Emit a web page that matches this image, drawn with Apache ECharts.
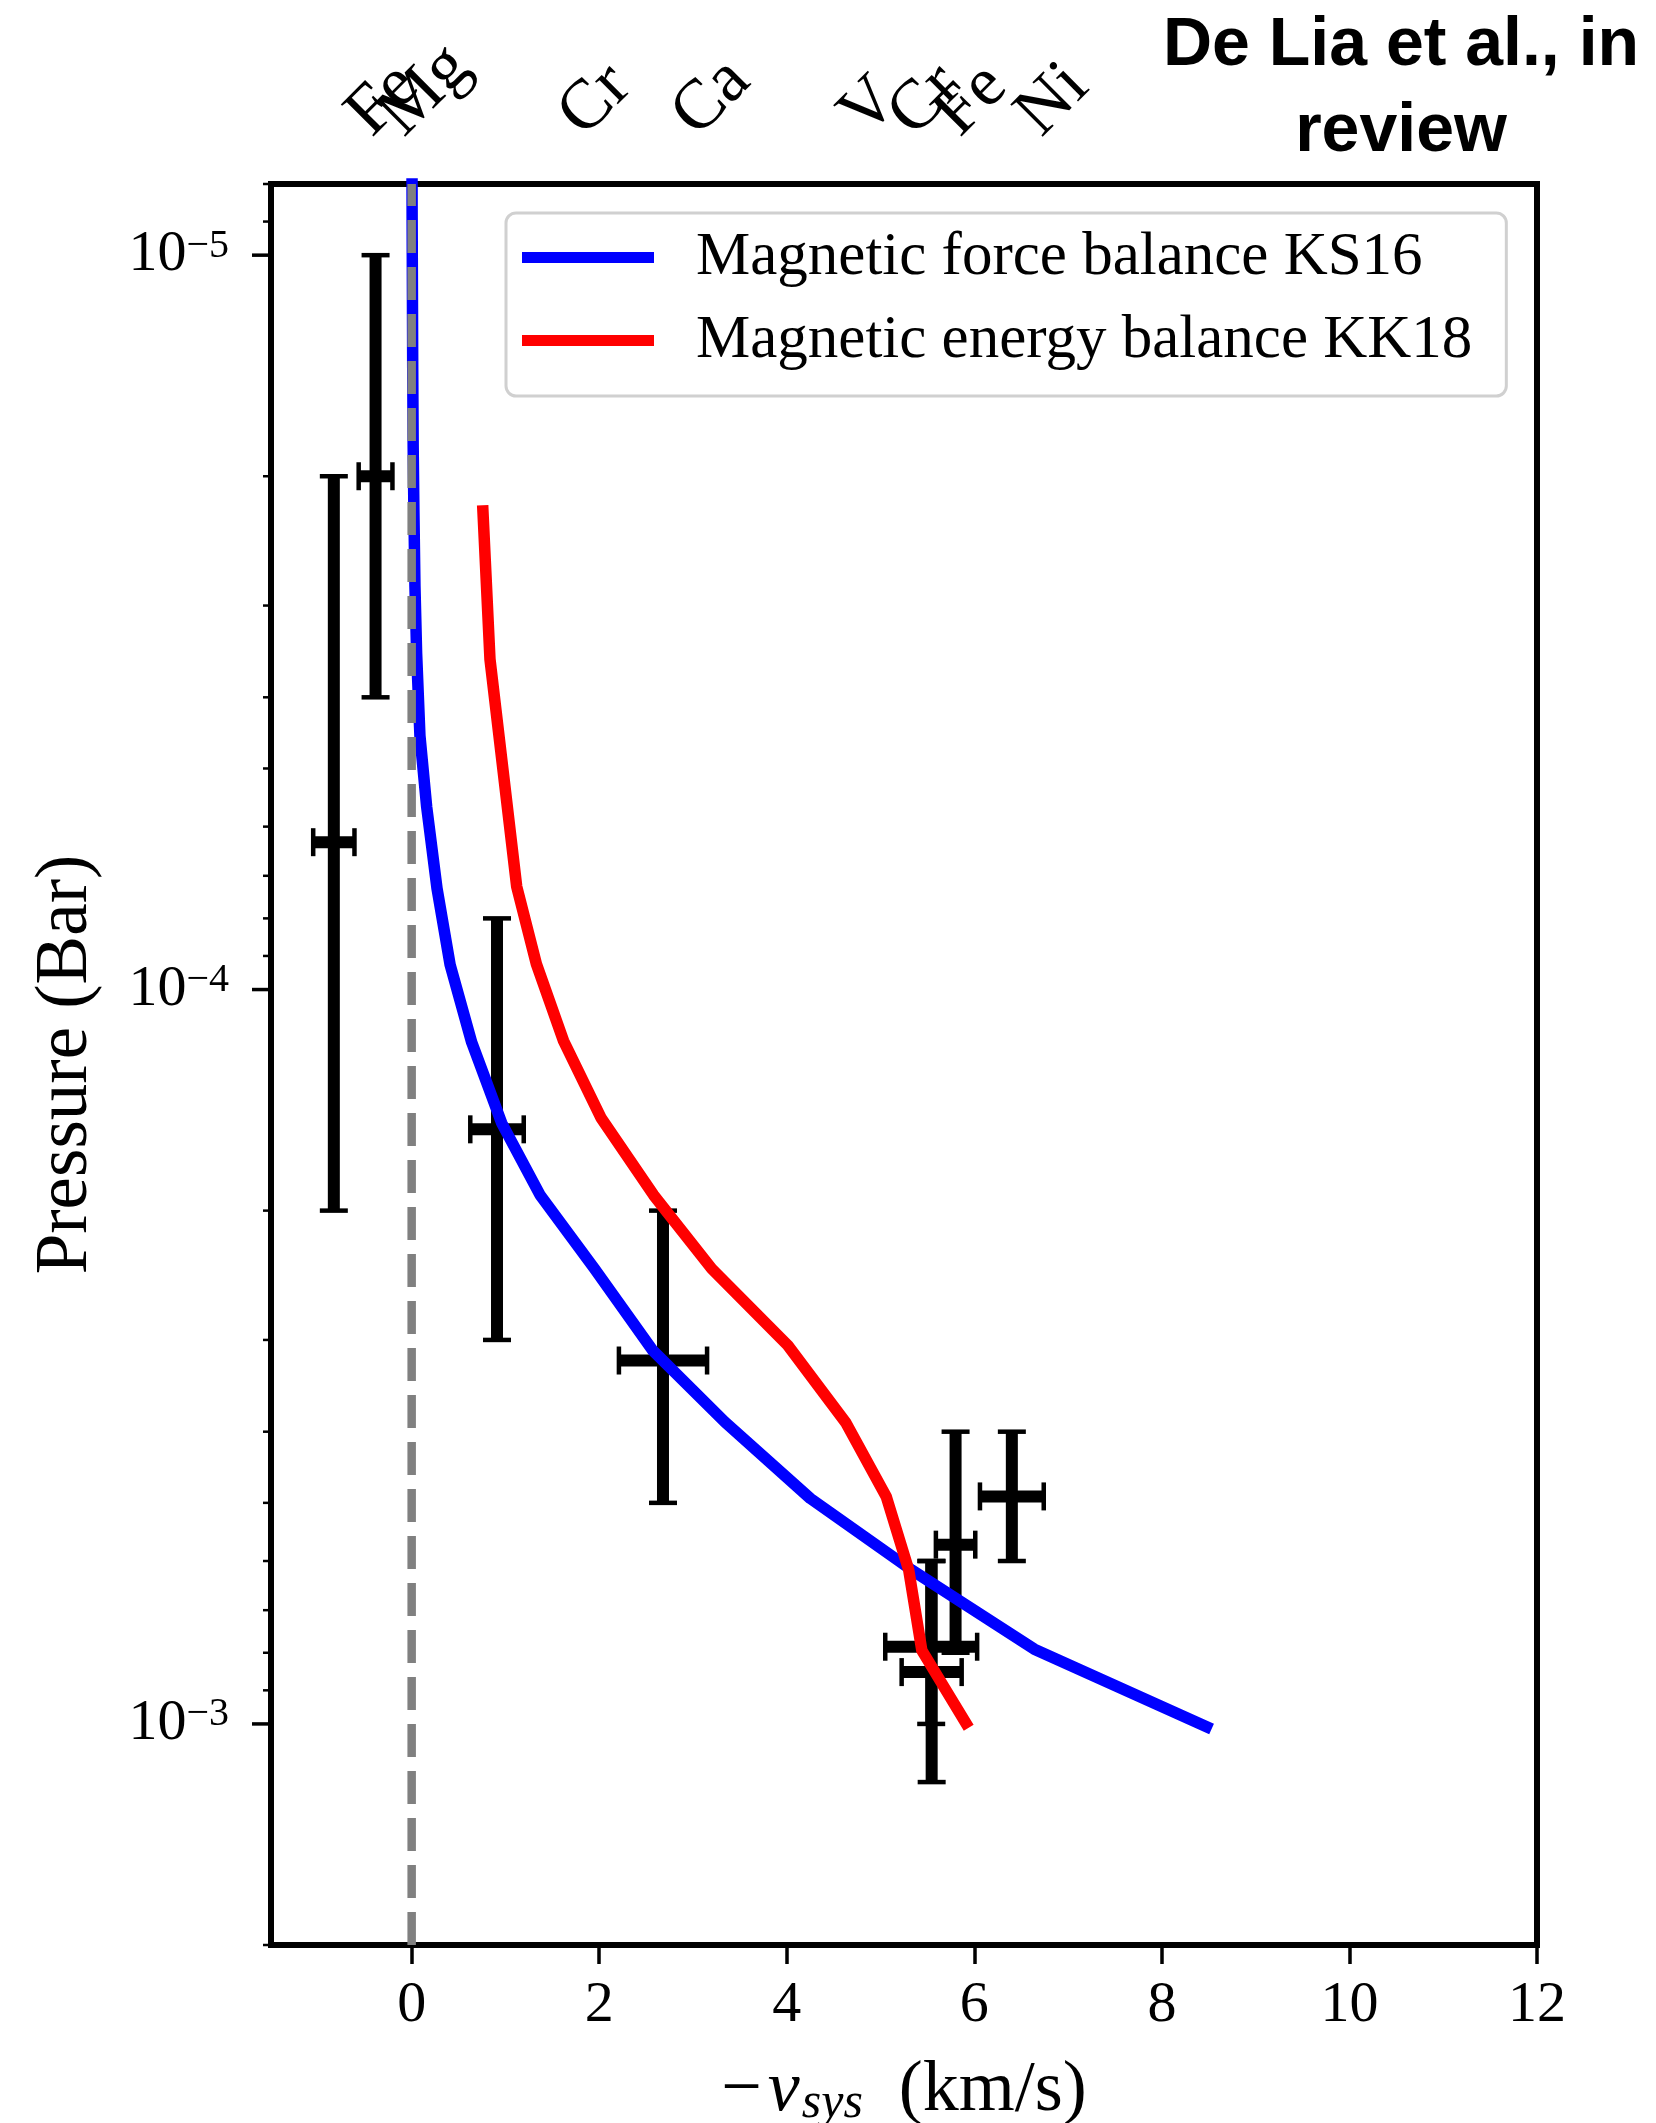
<!DOCTYPE html>
<html><head><meta charset="utf-8">
<script src="https://cdn.jsdelivr.net/npm/echarts@6/dist/echarts.min.js"></script>
<style>html,body{margin:0;padding:0;background:#fff}#c{width:1656px;height:2123px}</style>
</head><body><div id="c"></div>
<script>
// ---- data ----
const xTickValues = [0, 2, 4, 6, 8, 10, 12];
const yMajorTicks = [1e-5, 1e-4, 1e-3];
const yMinorTicks = [8e-6, 9e-6, 2e-5, 3e-5, 4e-5, 5e-5, 6e-5, 7e-5, 8e-5, 9e-5,
  2e-4, 3e-4, 4e-4, 5e-4, 6e-4, 7e-4, 8e-4, 9e-4, 2e-3];
const topLabels = ['Fe', 'Mg', 'Cr', 'Ca', 'V', 'Cr', 'Fe', 'Ni'];
const topLabelPos = [-0.30, 0.04, 1.96, 3.17, 4.96, 5.48, 5.97, 6.84];

// Magnetic force balance KS16 (blue)
const ks16V = [8.53, 6.64, 5.33, 4.25, 3.34, 2.57, 1.95, 1.37, 0.96, 0.64, 0.41, 0.27, 0.16, 0.088, 0.053, 0.035, 0.024, 0.016, 0.011, 0.008, 0.005, 0.003];
const ks16P = [1.016e-3, 7.91e-4, 6.17e-4, 4.93e-4, 3.88e-4, 3.10e-4, 2.40e-4, 1.905e-4, 1.52e-4, 1.18e-4, 9.25e-5, 7.28e-5, 5.64e-5, 4.51e-5, 3.49e-5, 2.82e-5, 2.24e-5, 1.82e-5, 1.41e-5, 1.12e-5, 8.9e-6, 7.1e-6];

// Magnetic energy balance KK18 (red)
const kk18V = [0.757, 0.835, 1.12, 1.33, 1.62, 2.02, 2.58, 3.2, 4.01, 4.63, 5.06, 5.30, 5.44, 5.94];
const kk18P = [2.19e-5, 3.55e-5, 7.24e-5, 9.23e-5, 1.175e-4, 1.496e-4, 1.905e-4, 2.40e-4, 3.05e-4, 3.89e-4, 4.90e-4, 6.17e-4, 7.94e-4, 1.012e-3];

// observed species (order: Fe, Mg, Cr, Ca, V, Cr, Fe, Ni)
const obsV    = [-0.83, -0.385, 0.91, 2.68, 5.54, 5.545, 5.80, 6.40];
const obsVerr = [0.22, 0.18, 0.285, 0.47, 0.49, 0.32, 0.21, 0.34];
const obsP    = [6.3e-5, 2.0e-5, 1.55e-4, 3.2e-4, 7.85e-4, 8.5e-4, 5.7e-4, 4.9e-4];
const obsPlo  = [2.0e-5, 1.0e-5, 8.0e-5, 2.0e-4, 6.0e-4, 6.0e-4, 4.0e-4, 4.0e-4];
const obsPhi  = [2.0e-4, 4.0e-5, 3.0e-4, 5.0e-4, 1.0e-3, 1.2e-3, 8.0e-4, 6.0e-4];

const refLineV = 0;
const X_MIN = -1.5, X_MAX = 12, Y_MIN = 8e-6, Y_MAX = 2e-3;
const SERIF = 'Liberation Serif';

const chart = echarts.init(document.getElementById('c'), null, {renderer: 'canvas'});

function tickSeries(values, len, width) {
  return {
    type: 'custom', coordinateSystem: 'cartesian2d', silent: true, clip: false, z: 10,
    data: values.map(v => [X_MIN, v]),
    encode: {x: 0, y: 1},
    renderItem: (params, api) => {
      const p = api.coord([api.value(0), api.value(1)]);
      return {type: 'line', shape: {x1: p[0] - len, y1: p[1], x2: p[0], y2: p[1]},
        style: {stroke: '#000', lineWidth: width}};
    }
  };
}

// top element labels: spread over several top axes so that overlapping labels are all kept
const TOP_GROUPS = 4;
const topAxes = [];
for (let g = 0; g < TOP_GROUPS; g++) {
  const vals = topLabelPos.filter((p, i) => i % TOP_GROUPS === g);
  topAxes.push({
    type: 'value', position: 'top', offset: 0, min: X_MIN, max: X_MAX,
    splitLine: {show: false}, axisLine: {show: false}, axisTick: {show: false},
    axisLabel: {
      customValues: vals, rotate: -45, margin: 34, align: 'left', verticalAlign: 'bottom',
      showMinLabel: true, showMaxLabel: true, hideOverlap: false,
      fontFamily: SERIF, fontSize: 70, lineHeight: 70, color: '#000',
      formatter: (v) => {
        let best = 0;
        topLabelPos.forEach((p, i) => { if (Math.abs(p - v) < Math.abs(topLabelPos[best] - v)) best = i; });
        return topLabels[best];
      }
    }
  });
}

const option = {
  animation: false,
  textStyle: {fontFamily: SERIF},
  title: {
    text: 'De Lia et al., in\nreview', left: 1401, top: 3, textAlign: 'center', padding: 0,
    textStyle: {fontFamily: 'Liberation Sans', fontWeight: 'bold', fontSize: 68, lineHeight: 86, color: '#000'}
  },
  grid: {left: 271, top: 184, width: 1266, height: 1761, show: true, borderColor: '#000', borderWidth: 6,
    backgroundColor: 'transparent', containLabel: false, outerBoundsMode: 'none'},
  legend: {
    data: ['Magnetic force balance KS16', 'Magnetic energy balance KK18'],
    orient: 'vertical', left: 506, top: 213, padding: [14, 34, 25, 16],
    itemWidth: 132, itemHeight: 11, itemGap: 22, icon: 'rect',
    backgroundColor: '#fff', borderColor: '#d0d0d0', borderWidth: 3, borderRadius: 10,
    selectedMode: false,
    textStyle: {fontFamily: SERIF, fontSize: 61, lineHeight: 61, color: '#000', padding: [0, 0, 0, 37]}
  },
  xAxis: [{
    type: 'value', position: 'bottom', min: X_MIN, max: X_MAX,
    splitLine: {show: false}, axisLine: {show: false},
    axisTick: {show: true, length: 19, lineStyle: {color: '#000', width: 3.5}, customValues: xTickValues},
    axisLabel: {customValues: xTickValues, margin: 32, fontFamily: SERIF, fontSize: 58, lineHeight: 58, color: '#000'},
    name: '{n|−}{i|v}{s|sys}{n|  (km/s)}', nameLocation: 'middle', nameGap: 108, nameMoveOverlap: false,
    nameTextStyle: {fontFamily: SERIF, fontSize: 72, color: '#000', rich: {
      n: {fontFamily: SERIF, fontSize: 72, lineHeight: 76, color: '#000'},
      i: {fontFamily: SERIF, fontStyle: 'italic', fontSize: 72, lineHeight: 76, color: '#000', padding: [0, 2, 0, 6]},
      s: {fontFamily: SERIF, fontStyle: 'italic', fontSize: 50, lineHeight: 44, verticalAlign: 'bottom', color: '#000'}
    }}
  }].concat(topAxes),
  yAxis: {
    type: 'log', logBase: 10, inverse: true, min: Y_MIN, max: Y_MAX,
    splitLine: {show: false}, axisLine: {show: false}, axisTick: {show: false},
    axisLabel: {
      showMinLabel: false, showMaxLabel: false, margin: 42, color: '#000',
      formatter: (v) => {
        const e = Math.round(Math.log10(v));
        if (Math.abs(Math.log10(v) - e) > 1e-6) return '';
        return '{b|10}{s|' + (e < 0 ? '−' + (-e) : e) + '}';
      },
      rich: {
        b: {fontFamily: SERIF, fontSize: 58, lineHeight: 58, color: '#000'},
        s: {fontFamily: SERIF, fontSize: 40, lineHeight: 34, verticalAlign: 'top', color: '#000'}
      }
    },
    name: 'Pressure (Bar)', nameLocation: 'middle', nameRotate: 90, nameGap: 168, nameMoveOverlap: false,
    nameTextStyle: {fontFamily: SERIF, fontSize: 73, color: '#000'}
  },
  series: [
    {
      type: 'custom', name: 'obs', coordinateSystem: 'cartesian2d', z: 2, silent: true,
      data: obsV.map((v, i) => [v, obsP[i], obsVerr[i], obsPlo[i], obsPhi[i]]),
      encode: {x: 0, y: 1},
      renderItem: (params, api) => {
        const x = api.value(0), y = api.value(1), xe = api.value(2), lo = api.value(3), hi = api.value(4);
        const pT = api.coord([x, lo]), pB = api.coord([x, hi]);
        const pL = api.coord([x - xe, y]), pR = api.coord([x + xe, y]);
        const st = {stroke: '#000', lineWidth: 12};
        const cs = {stroke: '#000', lineWidth: 4.5};
        const c = 14;
        return {type: 'group', children: [
          {type: 'line', shape: {x1: pT[0], y1: pT[1], x2: pB[0], y2: pB[1]}, style: st},
          {type: 'line', shape: {x1: pL[0], y1: pL[1], x2: pR[0], y2: pR[1]}, style: st},
          {type: 'line', shape: {x1: pT[0] - c, y1: pT[1], x2: pT[0] + c, y2: pT[1]}, style: cs},
          {type: 'line', shape: {x1: pB[0] - c, y1: pB[1], x2: pB[0] + c, y2: pB[1]}, style: cs},
          {type: 'line', shape: {x1: pL[0], y1: pL[1] - c, x2: pL[0], y2: pL[1] + c}, style: cs},
          {type: 'line', shape: {x1: pR[0], y1: pR[1] - c, x2: pR[0], y2: pR[1] + c}, style: cs}
        ]};
      }
    },
    {
      type: 'line', name: 'Magnetic force balance KS16', z: 3, color: '#0000ff',
      data: ks16V.map((v, i) => [v, ks16P[i]]), symbol: 'none', smooth: false,
      lineStyle: {color: '#0000ff', width: 11.5, join: 'round', cap: 'butt'}, itemStyle: {color: '#0000ff'}
    },
    {
      type: 'line', name: 'zero', z: 4, silent: true,
      data: [[refLineV, Y_MAX], [refLineV, Y_MIN]], symbol: 'none',
      lineStyle: {color: '#808080', width: 8.5, type: [33, 14], cap: 'butt'}
    },
    {
      type: 'line', name: 'Magnetic energy balance KK18', z: 5, color: '#ff0000',
      data: kk18V.map((v, i) => [v, kk18P[i]]), symbol: 'none', smooth: false,
      lineStyle: {color: '#ff0000', width: 11.5, join: 'round', cap: 'butt'}, itemStyle: {color: '#ff0000'}
    },
    tickSeries(yMajorTicks, 19, 3.5),
    tickSeries(yMinorTicks, 8, 2.5)
  ]
};
chart.setOption(option);
</script>
</body></html>
